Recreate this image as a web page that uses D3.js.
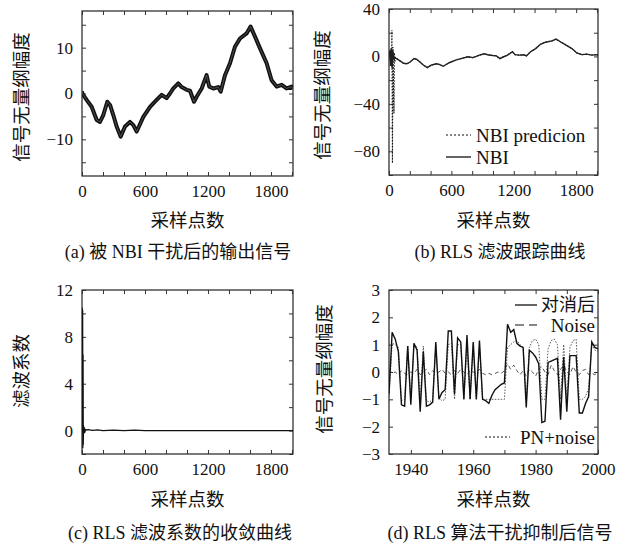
<!DOCTYPE html>
<html><head><meta charset="utf-8">
<script src="https://cdn.jsdelivr.net/npm/d3@7"></script>
<style>
body{margin:0;background:#fff;}
svg{display:block;}
.num{font-family:"Liberation Serif","DejaVu Serif",serif;font-size:17px;fill:#111;}
.leg{font-family:"Liberation Serif","DejaVu Serif",serif;font-size:19px;fill:#111;}
.cjk{font-family:"Noto Sans CJK SC",sans-serif;font-weight:400;fill:#111;}
.cap{font-family:"Liberation Serif","Noto Sans CJK SC",serif;font-size:18px;fill:#111;}
</style></head>
<body><svg id="c" width="636" height="545"></svg>
<script>
// ---------- data ----------
// (a) output signal after NBI interference
const aX = [0,3,44,92,140,171,203,241,267,298,330,368,410,457,489,521,584,648,711,759,806,838,870,917,949,997,1029,1067,1092,1140,1187,1212,1251,1298,1321,1362,1410,1457,1505,1568,1606,1648,1695,1759,1806,1854,1902,1949,1997,2010];
const aY = [0.5,0.0,-1.4,-2.9,-5.8,-6.2,-4.7,-1.8,-2.5,-4.7,-7.2,-9.4,-7.2,-6.2,-6.9,-8.3,-5.1,-2.9,-1.4,-0.3,-1.0,0.0,1.1,2.2,1.4,0.8,0.6,-1.8,-0.7,1.1,4.0,1.5,1.1,1.4,0.4,4.0,6.6,10.2,12.0,13.1,14.6,12.4,9.9,6.6,2.9,1.5,1.9,1.1,1.5,1.0];
// (b) RLS tracking: NBI (start transient) and NBI prediction transient
const bNbiStartX = [0,8,15,22,30,38,45,55];
const bNbiStartY = [0,5,-8,7,-10,5,-3,-1];
const bPredX = [0,6,12,18,24,28,33,38,43,48,52,57,62];
const bPredY = [0,3,-4,6,-8,22,-90,8,-20,-48,3,-5,-1];
// (c) RLS coefficient convergence
const cX = [0,2,4,6,8,10,12,14,16,20,25,30,40,60,100,150,200,300,400,500,600,800,1000,1500,2010];
const cY = [0,10.5,3,10.3,-1.5,6.5,-1.2,0.4,-0.3,0.3,-0.2,0.1,0.05,0.08,0.02,0.06,0.0,0.04,0.0,0.03,0.0,0.0,0.0,0.0,0.0];
// (d) signal after RLS suppression, samples 1933..2000
const dSamples = d3.range(1933, 2001);
const dCancel = [-0.8,1.45,1.2,0.75,-1.2,-1.25,0.95,-1.2,1.05,0.8,-1.45,0.75,-1.25,-1.2,-1.1,1.1,-1.0,-0.75,-0.65,1.5,1.5,-0.8,1.25,1.1,-1.0,1.35,-1.0,1.1,-1.0,1.15,-1.0,-1.05,-1.15,-0.85,-0.65,-0.55,-0.45,-0.4,1.75,1.45,1.55,1.05,0.95,0.9,-1.3,0.8,0.7,0.55,0.3,-1.85,-1.8,0.35,0.4,0.45,0.5,-1.75,0.55,-1.45,0.6,0.6,0.6,-1.5,-1.5,-1.15,-0.9,1.1,0.9,0.85];
const dNoise = [0.1,-0.05,0.0,-0.1,0.05,-0.05,-0.1,0.0,-0.05,0.1,-0.1,0.0,0.1,-0.1,0.05,-0.05,0.0,0.1,-0.05,0.0,-0.1,0.05,-0.05,0.1,0.0,-0.1,0.05,0.0,-0.05,0.1,-0.05,-0.1,-0.05,-0.1,-0.05,0.0,-0.05,0.05,0.3,0.1,0.25,0.05,-0.1,0.05,-0.15,0.1,0.0,-0.15,0.1,0.2,0.0,-0.1,0.25,0.05,-0.1,0.1,0.25,0.0,-0.1,0.2,0.0,-0.1,0.05,0.1,-0.1,-0.05,-0.1,0.0];
const dPN = [-0.9,1.05,1.0,0.9,-1.05,-1.0,0.95,-1.0,1.0,0.9,-1.1,0.95,-1.05,-1.1,-1.0,1.0,-0.95,-1.05,-1.0,1.0,1.05,-1.0,1.0,1.0,-1.0,1.0,-1.0,1.0,-1.0,1.0,-1.0,-1.0,-1.0,-1.0,-1.0,-1.0,-1.0,-1.0,0.9,1.0,1.1,1.15,1.0,0.9,-1.0,0.9,1.15,1.2,1.0,-1.0,-1.0,0.85,1.15,1.2,1.0,-1.0,1.0,-1.0,0.9,1.15,1.2,-1.0,-1.0,-0.9,-0.6,1.0,0.8,0.75];
// tick labels
const xTicksLong = [0,600,1200,1800];
const xTicksD = [1940,1960,1980,2000];
const yTicksA = [-10,0,10];
const yTicksB = [-80,-40,0,40];
const yTicksC = [0,4,8,12];
const yTicksD = [-3,-2,-1,0,1,2,3];

const svg = d3.select("#c");
const fmt = d3.format("");

function panel(o){
  const x = d3.scaleLinear().domain(o.xd).range([o.l, o.r]);
  const y = d3.scaleLinear().domain(o.yd).range([o.b, o.t]);
  const g = svg.append("g");
  g.append("rect").attr("x",o.l).attr("y",o.t).attr("width",o.r-o.l).attr("height",o.b-o.t)
    .attr("fill","none").attr("stroke","#222").attr("stroke-width",1.2);
  const lab = new Set(o.xl), laby = new Set(o.yl);
  const ax = d3.axisBottom(x).tickValues(o.xm).tickSizeInner(-4).tickSizeOuter(0).tickPadding(9)
      .tickFormat(v => lab.has(v) ? fmt(v) : "");
  g.append("g").attr("transform",`translate(0,${o.b})`).call(ax);
  g.append("g").attr("transform",`translate(0,${o.t})`)
    .call(d3.axisTop(x).tickValues(o.xm).tickSizeInner(-4).tickSizeOuter(0).tickFormat(""));
  const ay = d3.axisLeft(y).tickValues(o.ym).tickSizeInner(-4).tickSizeOuter(0).tickPadding(9)
      .tickFormat(v => laby.has(v) ? d3.format("")(v) : "");
  g.append("g").attr("transform",`translate(${o.l},0)`).call(ay);
  g.append("g").attr("transform",`translate(${o.r},0)`)
    .call(d3.axisRight(y).tickValues(o.ym).tickSizeInner(-4).tickSizeOuter(0).tickFormat(""));
  g.selectAll(".domain").remove();
  g.selectAll(".tick line").attr("stroke","#333");
  g.selectAll(".tick text").attr("class","num").attr("font-size",null).attr("font-family",null);
  g.append("text").attr("class","cjk").attr("font-size",18.5).attr("text-anchor","middle")
    .attr("x",(o.l+o.r)/2).attr("y",o.xlY).attr("dy","0.35em").text("采样点数");
  g.append("text").attr("class","cjk").attr("font-size",18.5).attr("text-anchor","middle")
    .attr("transform",`translate(${o.ylX},${o.ylY}) rotate(-90)`).attr("dy","0.35em").text(o.ytitle);
  g.append("text").attr("class","cap").attr("text-anchor","middle")
    .attr("x",o.capX).attr("y",o.capY).attr("dy","0.35em").text(o.cap);
  const clip = "clip"+Math.round(o.l)+Math.round(o.t);
  svg.append("clipPath").attr("id",clip).append("rect")
    .attr("x",o.l).attr("y",o.t).attr("width",o.r-o.l).attr("height",o.b-o.t);
  const pg = g.append("g").attr("clip-path",`url(#${clip})`);
  return {x,y,g,pg};
}

const line = (x,y) => d3.line().x(d=>x(d[0])).y(d=>y(d[1]));

// (a)
{
  const p = panel({l:82,r:293,t:11,b:176,xd:[0,2010],yd:[-18,18],
    xm:d3.range(0,2001,200),xl:xTicksLong,ym:[-15,-10,-5,0,5,10,15],yl:yTicksA,
    xlY:221,ylX:22,ylY:97,ytitle:"信号无量纲幅度",capX:178,capY:252,cap:"(a) 被 NBI 干扰后的输出信号"});
  const pts = aX.map((v,i)=>[v,aY[i]]);
  p.pg.append("path").attr("d",line(p.x,p.y)(pts)).attr("fill","none")
    .attr("stroke","#111").attr("stroke-width",4).attr("stroke-linejoin","round");
  p.pg.append("path").attr("d",line(p.x,p.y)(pts)).attr("fill","none")
    .attr("stroke","#777").attr("stroke-width",0.6);
}
// (b)
{
  const p = panel({l:389,r:598,t:9,b:175,xd:[0,2010],yd:[-100,40],
    xm:d3.range(0,2001,200),xl:xTicksLong,ym:[-100,-80,-60,-40,-20,0,20,40],yl:yTicksB,
    xlY:221,ylX:323,ylY:95,ytitle:"信号无量纲幅度",capX:500,capY:252,cap:"(b) RLS 滤波跟踪曲线"});
  const nbi = bNbiStartX.map((v,i)=>[v,bNbiStartY[i]]).concat(aX.map((v,i)=>[v,aY[i]]).filter(d=>d[0]>60));
  const pred = bPredX.map((v,i)=>[v,bPredY[i]]).concat(aX.map((v,i)=>[v,aY[i]]).filter(d=>d[0]>62));
  p.pg.append("path").attr("d",line(p.x,p.y)(pred)).attr("fill","none")
    .attr("stroke","#111").attr("stroke-width",1.1).attr("stroke-dasharray","1.5,1.5");
  p.pg.append("path").attr("d",line(p.x,p.y)(nbi)).attr("fill","none")
    .attr("stroke","#222").attr("stroke-width",1.4);
  const lg = p.g.append("g");
  lg.append("line").attr("x1",446).attr("x2",471).attr("y1",135).attr("y2",135)
    .attr("stroke","#111").attr("stroke-width",1.1).attr("stroke-dasharray","2,2");
  lg.append("text").attr("class","leg").attr("x",476).attr("y",135).attr("dy","0.35em").text("NBI predicion");
  lg.append("line").attr("x1",446).attr("x2",471).attr("y1",157).attr("y2",157)
    .attr("stroke","#111").attr("stroke-width",1.3);
  lg.append("text").attr("class","leg").attr("x",476).attr("y",157).attr("dy","0.35em").text("NBI");
}
// (c)
{
  const p = panel({l:82,r:293,t:290,b:454,xd:[0,2010],yd:[-2,12],
    xm:d3.range(0,2001,200),xl:xTicksLong,ym:[-2,0,2,4,6,8,10,12],yl:yTicksC,
    xlY:500,ylX:22,ylY:371,ytitle:"滤波系数",capX:180,capY:533,cap:"(c) RLS 滤波系数的收敛曲线"});
  const pts = cX.map((v,i)=>[v,cY[i]]);
  p.pg.append("path").attr("d",line(p.x,p.y)(pts)).attr("fill","none")
    .attr("stroke","#111").attr("stroke-width",1.3);
}
// (d)
{
  const p = panel({l:389,r:598,t:290,b:454,xd:[1933,2000],yd:[-3,3],
    xm:d3.range(1940,2001,10),xl:xTicksD,ym:yTicksD,yl:yTicksD,
    xlY:500,ylX:325,ylY:369,ytitle:"信号无量纲幅度",capX:500,capY:533,cap:"(d) RLS 算法干扰抑制后信号"});
  const mk = arr => dSamples.map((v,i)=>[v,arr[i]]);
  p.pg.append("path").attr("d",line(p.x,p.y)(mk(dPN))).attr("fill","none")
    .attr("stroke","#444").attr("stroke-width",0.9).attr("stroke-dasharray","1.5,1.5");
  p.pg.append("path").attr("d",line(p.x,p.y)(mk(dNoise))).attr("fill","none")
    .attr("stroke","#444").attr("stroke-width",0.9).attr("stroke-dasharray","4,3");
  p.pg.append("path").attr("d",line(p.x,p.y)(mk(dCancel))).attr("fill","none")
    .attr("stroke","#111").attr("stroke-width",1.4);
  const lg = p.g.append("g");
  lg.append("line").attr("x1",515).attr("x2",537).attr("y1",305).attr("y2",305)
    .attr("stroke","#111").attr("stroke-width",1.3);
  lg.append("text").attr("class","cjk").attr("font-size",18).attr("text-anchor","end")
    .attr("x",595).attr("y",305).attr("dy","0.35em").text("对消后");
  lg.append("line").attr("x1",515).attr("x2",537).attr("y1",325).attr("y2",325)
    .attr("stroke","#111").attr("stroke-width",1.1).attr("stroke-dasharray","9,5");
  lg.append("text").attr("class","leg").attr("text-anchor","end")
    .attr("x",595).attr("y",325).attr("dy","0.35em").text("Noise");
  lg.append("line").attr("x1",485).attr("x2",510).attr("y1",437).attr("y2",437)
    .attr("stroke","#111").attr("stroke-width",1.1).attr("stroke-dasharray","2,2");
  lg.append("text").attr("class","leg").attr("text-anchor","end")
    .attr("x",595).attr("y",437).attr("dy","0.35em").text("PN+noise");
}
</script></body></html>
